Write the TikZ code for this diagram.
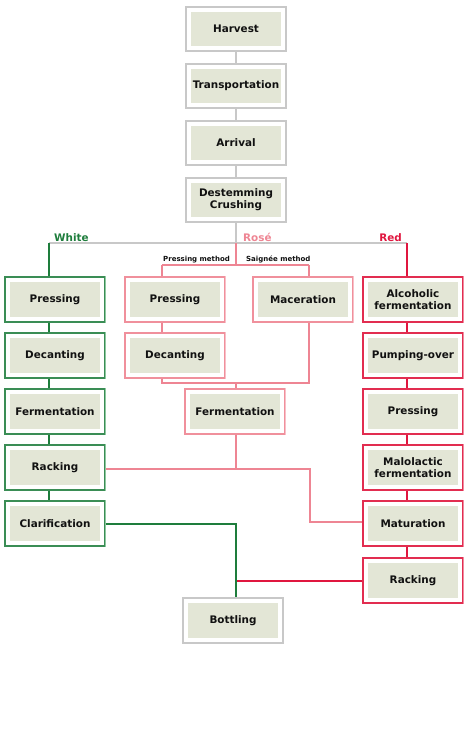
\documentclass[tikz,border=0pt]{standalone}
\usepackage{fontspec}
\setmainfont{DejaVu Sans}
\usetikzlibrary{calc}
\definecolor{paper}{HTML}{E3E6D6}
\definecolor{fog}{HTML}{C8C8C8}
\definecolor{vine}{HTML}{1E7D3C}
\definecolor{vinedk}{HTML}{3A8D55}
\definecolor{vinelt}{HTML}{8FC8A0}
\definecolor{blush}{HTML}{EE8593}
\definecolor{blushdk}{HTML}{F0909C}
\definecolor{blushlt}{HTML}{F8C0C8}
\definecolor{claret}{HTML}{E0163F}
\definecolor{claretdk}{HTML}{E22D50}
\definecolor{claretlt}{HTML}{F08CA0}
\definecolor{ink}{HTML}{111111}
\tikzset{
  stage/.style={draw=#1,line width=1.4pt,minimum width=100pt,minimum height=45pt,
    inner sep=0pt,align=center,text=ink,font=\fontsize{10.4}{11.8}\selectfont\bfseries,
    path picture={\fill[paper] ([shift={(5pt,-5pt)}]path picture bounding box.north west)
      rectangle ([shift={(-5pt,5pt)}]path picture bounding box.south east);}},
  stage/.default=fog,
  rim/.style={append after command={(\tikzlastnode.north east) edge[draw=#1,line width=1.4pt] (\tikzlastnode.south east)}},
  wbox/.style={stage=vinedk,rim=vinelt},
  pbox/.style={stage=blushdk,rim=blushlt},
  rbox/.style={stage=claretdk,rim=claretlt},
  link/.style={line width=2pt,draw=#1},
  link/.default=fog,
  tag/.style={font=\fontsize{10.4}{12}\selectfont\bfseries,text=#1,inner sep=0pt},
  method/.style={font=\fontsize{7}{8}\selectfont\bfseries,text=ink,inner sep=0pt},
}
\begin{document}
\begin{tikzpicture}[x=1pt,y=-1pt]
  \useasboundingbox (0,0) rectangle (470,737);
  % common trunk
  \node[stage,minimum height=44pt] (harvest) at (236,29) {Harvest};
  \node[stage,minimum height=44pt] (transport) at (236,86) {Transportation};
  \node[stage,minimum height=44pt] (arrival) at (236,143) {Arrival};
  \node[stage,minimum height=44pt] (destem) at (236,200) {Destemming\\Crushing};
  \draw[link] (harvest) -- (transport); \draw[link] (transport) -- (arrival); \draw[link] (arrival) -- (destem);
  \coordinate (split) at (236,243); \coordinate (wtop) at (49,243); \coordinate (rtop) at (407,243);
  \draw[link] (destem) -- (split); \draw[link] (wtop) -- (rtop);
  \node[tag=vine,anchor=base west] (lwhite) at (54,241) {White};
  \node[tag=blush,anchor=base west] (lrose) at (243,241) {Rosé};
  \node[tag=claret,anchor=base east] (lred) at (402,241) {Red};
  % white
  \node[wbox] (wpress) at (55,299.5) {Pressing};
  \node[wbox] (wdecant) at (55,355.5) {Decanting};
  \node[wbox] (wferm) at (55,411.5) {Fermentation};
  \node[wbox] (wrack) at (55,467.5) {Racking};
  \node[wbox] (wclar) at (55,523.5) {Clarification};
  % rose
  \node[pbox] (ppress) at (175,299.5) {Pressing};
  \node[pbox] (pdecant) at (175,355.5) {Decanting};
  \node[pbox] (macer) at (303,299.5) {Maceration};
  \node[pbox] (pferm) at (235,411.5) {Fermentation};
  \node[method,anchor=base west] (lpm) at (163,261) {Pressing method};
  \node[method,anchor=base west] (lsm) at (246,261) {Saignée method};
  % red
  \node[rbox] (alc) at (413,299.5) {Alcoholic\\fermentation};
  \node[rbox] (pump) at (413,355.5) {Pumping-over};
  \node[rbox] (rpress) at (413,411.5) {Pressing};
  \node[rbox] (malo) at (413,467.5) {Malolactic\\fermentation};
  \node[rbox] (matur) at (413,523.5) {Maturation};
  \node[rbox] (rrack) at (413,580.5) {Racking};
  \node[stage] (bottle) at (233,620.5) {Bottling};
  % rose links
  \coordinate (psplit) at (236,265); \coordinate (pm) at (162,265); \coordinate (sm) at (309,265);
  \coordinate (pjoin) at (236,383); \coordinate (pmid) at (236,469); \coordinate (pbend) at (310,469);
  \coordinate (pend) at (310,522);
  \draw[link=blush] (split) -- (psplit); \draw[link=blush] (pm) -- (sm);
  \draw[link=blush] (pm) -- (pm |- ppress.north); \draw[link=blush] (sm) -- (sm |- macer.north);
  \draw[link=blush] (pm |- ppress.south) -- (pm |- pdecant.north);
  \draw[link=blush] (pm |- pdecant.south) -- (pm |- pjoin) -- (sm |- pjoin) -- (sm |- macer.south);
  \draw[link=blush] (pjoin) -- (pjoin |- pferm.north);
  \draw[link=blush] (pjoin |- pferm.south) -- (pmid);
  \draw[link=blush] (wrack.east |- pmid) -- (pbend) -- (pend) -- (matur.west |- pend);
  % red links
  \draw[link=claret] (rtop) -- (rtop |- alc.north);
  \foreach \a/\b in {alc/pump,pump/rpress,rpress/malo,malo/matur,matur/rrack}
    \draw[link=claret] (rtop |- \a.south) -- (rtop |- \b.north);
  \coordinate (bjoin) at (236,524); \coordinate (rjoin) at (236,581);
  \draw[link=claret] (rrack.west |- rjoin) -- (rjoin);
  % white links
  \draw[link=vine] (wtop) -- (wtop |- wpress.north);
  \foreach \a/\b in {wpress/wdecant,wdecant/wferm,wferm/wrack,wrack/wclar}
    \draw[link=vine] (wtop |- \a.south) -- (wtop |- \b.north);
  \draw[link=vine] (wclar.east |- bjoin) -- (bjoin) -- (bjoin |- bottle.north);
\end{tikzpicture}
\end{document}
